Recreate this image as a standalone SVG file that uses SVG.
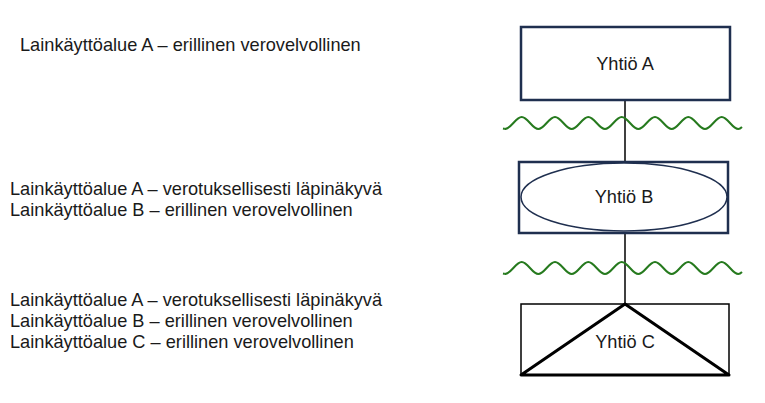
<svg xmlns="http://www.w3.org/2000/svg" xmlns:xlink="http://www.w3.org/1999/xlink" width="765" height="403" viewBox="0 0 765 403">
<style>
.t{font-family:"Liberation Sans",Arial,sans-serif;font-size:18.2px;fill:#1a1a1a}
.c{text-anchor:middle}
.nb{fill:#fff;stroke:#1f2f4f;stroke-width:2.5}
.wave{fill:none;stroke:#267a1e;stroke-width:2}
.ln{stroke:#000;stroke-width:1.5;fill:none}
</style>
<defs>
<path id="w" class="wave" d="M503,128.5 C505,129 507,129 505,129 M505,129 C511,129 515.7,117 521.7,117 S532.3,129 538.3,129 S549,117 555,117 S565.7,129 571.7,129 S582.3,117 588.3,117 S599,129 605,129 S615.7,117 621.7,117 S632.3,129 638.3,129 S649,117 655,117 S665.7,129 671.7,129 S682.3,117 688.3,117 S699,129 705,129 S715.7,117 721.7,117 S732.3,129 738.3,129 C740,129 741,128 742,127"/>
</defs>
<rect width="765" height="403" fill="#fff"/>
<g id="labels">
<text class="t" x="20" y="51">Lainkäyttöalue A – erillinen verovelvollinen</text>
<text class="t" x="10" y="195">Lainkäyttöalue A – verotuksellisesti läpinäkyvä</text>
<text class="t" x="10" y="216">Lainkäyttöalue B – erillinen verovelvollinen</text>
<text class="t" x="10" y="306">Lainkäyttöalue A – verotuksellisesti läpinäkyvä</text>
<text class="t" x="10" y="327">Lainkäyttöalue B – erillinen verovelvollinen</text>
<text class="t" x="10" y="348">Lainkäyttöalue C – erillinen verovelvollinen</text>
</g>
<g id="connectors">
<line class="ln" x1="625" y1="100" x2="625" y2="162"/>
<line class="ln" x1="625" y1="233" x2="625" y2="304"/>
</g>
<g id="waves">
<use xlink:href="#w"/>
<use xlink:href="#w" transform="translate(0,145)"/>
</g>
<g id="yhtio-a">
<rect class="nb" x="521" y="27" width="209" height="73"/>
<text class="t c" x="625" y="70">Yhtiö A</text>
</g>
<g id="yhtio-b">
<rect class="nb" x="519" y="162" width="209" height="71"/>
<ellipse cx="624" cy="197" rx="103" ry="34" fill="#fff" stroke="#1f2f4f" stroke-width="1.5"/>
<text class="t c" x="624" y="203">Yhtiö B</text>
</g>
<g id="yhtio-c">
<rect x="521" y="304" width="208" height="71" fill="#fff" stroke="#000" stroke-width="1.5"/>
<polygon points="625,304 521,375 729,375" fill="none" stroke="#000" stroke-width="3" stroke-linejoin="round"/>
<text class="t c" x="625" y="348">Yhtiö C</text>
</g>
</svg>
